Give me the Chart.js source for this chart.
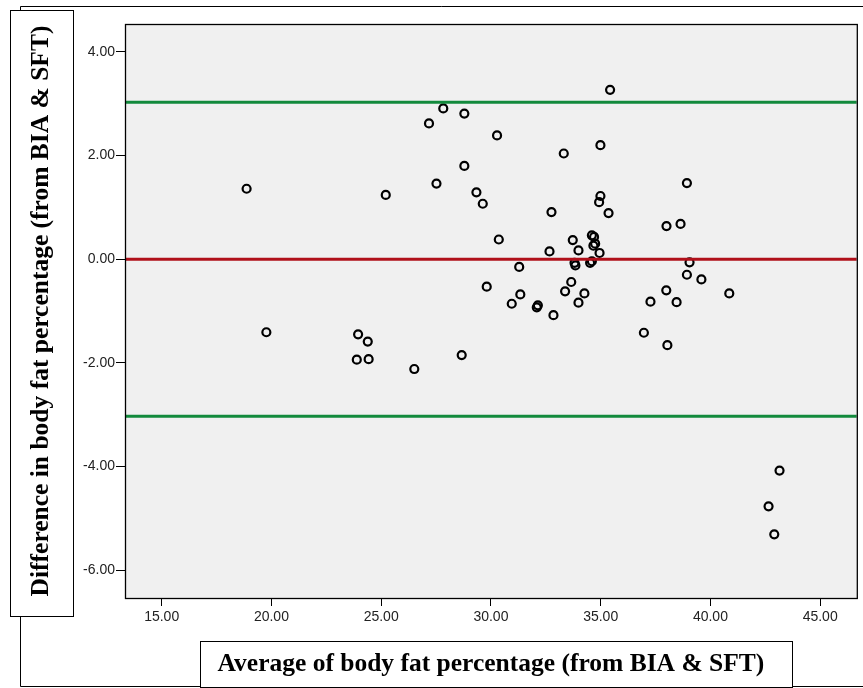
<!DOCTYPE html>
<html>
<head>
<meta charset="utf-8">
<script src="https://cdn.jsdelivr.net/npm/chart.js@4"></script>
<style>
  body { margin: 0; background: #fff; }
  #wrap { width: 863px; height: 688px; }
</style>
</head>
<body>
<div id="wrap"><canvas id="blandAltman" width="863" height="688"></canvas></div>
<script>
// DATA
const avgFat = [
    18.87, 19.77, 23.95, 24.39, 23.89, 24.43, 26.51, 25.21, 27.18, 27.83,
    27.52, 28.79, 28.79, 29.34, 29.63, 30.28, 30.36, 29.81, 28.67, 31.29,
    31.34, 30.95, 32.14, 32.09, 32.85, 32.76, 32.67, 33.32, 35.43, 34.99,
    34.99, 34.93, 35.36, 33.73, 33.99, 33.81, 33.85, 34.60, 34.70, 34.67,
    34.75, 34.95, 34.52, 34.60, 33.66, 33.38, 34.26, 33.99, 38.93, 38.00,
    38.64, 39.05, 38.93, 39.59, 37.99, 37.27, 38.46, 40.86, 36.97, 38.04,
    43.15, 42.65, 42.91
]
const diffFat = [
    1.36, -1.41, -1.45, -1.59, -1.94, -1.93, -2.12, 1.24, 2.62, 2.91,
    1.46, 2.81, 1.80, 1.29, 1.07, 2.39, 0.38, -0.53, -1.85, -0.15,
    -0.68, -0.86, -0.89, -0.93, -1.08, 0.91, 0.15, 2.04, 3.27, 2.20,
    1.22, 1.10, 0.89, 0.37, 0.17, -0.07, -0.12, 0.46, 0.43, 0.26,
    0.30, 0.12, -0.07, -0.04, -0.44, -0.62, -0.66, -0.84, 1.47, 0.64,
    0.68, -0.06, -0.30, -0.39, -0.60, -0.82, -0.83, -0.66, -1.42, -1.66,
    -4.08, -4.77, -5.31
]

const meanDiff = 0
const upperLimit = 3.03
const lowerLimit = -3.03

const xTicks = [15, 20, 25, 30, 35, 40, 45]
const yTicks = [-6, -4, -2, 0, 2, 4]
const xMin = 13.33, xMax = 46.67
const yMin = -6.54, yMax = 4.54

const hLine = (value) => [{ x: xMin, y: value }, { x: xMax, y: value }]

// frames, boxes and plot background like the SPSS output
const framePlugin = {
    id: 'frames',
    beforeDraw(chart) {
        const { ctx, chartArea: a } = chart
        ctx.save()
        ctx.fillStyle = '#fff'
        ctx.fillRect(0, 0, chart.width, chart.height)
        ctx.strokeStyle = '#000'
        ctx.lineWidth = 1
        // outer frame
        ctx.beginPath()
        ctx.moveTo(chart.width, 6.5)
        ctx.lineTo(20.5, 6.5)
        ctx.lineTo(20.5, 686.5)
        ctx.lineTo(chart.width, 686.5)
        ctx.stroke()
        // y title box
        ctx.fillRect(10, 10, 63, 606)
        ctx.strokeRect(10.5, 10.5, 63, 606)
        // x title box
        ctx.fillRect(200, 641, 592, 46)
        ctx.strokeRect(200.5, 641.5, 592, 46)
        // plot background
        ctx.fillStyle = '#f0f0f0'
        ctx.fillRect(a.left, a.top, a.right - a.left, a.bottom - a.top)
        ctx.restore()
    },
    afterDraw(chart) {
        const { ctx, chartArea: a } = chart
        ctx.save()
        ctx.strokeStyle = '#000'
        ctx.lineWidth = 1.3
        ctx.strokeRect(a.left + 0.5, a.top + 0.5, a.right - a.left, a.bottom - a.top)
        ctx.restore()
    }
}

const ctx = document.getElementById('blandAltman')

new Chart(ctx, {
    type: 'scatter',
    data: {
        datasets: [
            {
                data: hLine(upperLimit),
                showLine: true,
                borderColor: '#128a3c',
                borderWidth: 3,
                pointRadius: 0,
            },
            {
                data: hLine(lowerLimit),
                showLine: true,
                borderColor: '#128a3c',
                borderWidth: 3,
                pointRadius: 0,
            },
            {
                data: hLine(meanDiff),
                showLine: true,
                borderColor: '#b0101a',
                borderWidth: 3,
                pointRadius: 0,
            },
            {
                data: avgFat.map((x, i) => ({ x: x, y: diffFat[i] })),
                pointRadius: 4,
                pointBorderWidth: 2.2,
                borderColor: '#000',
                backgroundColor: 'rgba(0,0,0,0)',
            },
        ]
    },
    options: {
        responsive: false,
        animation: false,
        events: [],
        layout: {
            padding: { top: 24, right: 6, left: 0, bottom: 0 }
        },
        plugins: {
            legend: { display: false },
            tooltip: { enabled: false },
        },
        scales: {
            x: {
                type: 'linear',
                min: xMin,
                max: xMax,
                afterBuildTicks: (scale) => { scale.ticks = xTicks.map(v => ({ value: v })) },
                afterFit: (scale) => { scale.height = 90 },
                grid: {
                    drawOnChartArea: false,
                    drawTicks: true,
                    tickLength: 8,
                    color: '#000',
                },
                border: { color: '#000' },
                ticks: {
                    padding: 3,
                    color: '#222',
                    font: { family: 'Liberation Sans, Arial, sans-serif', size: 14 },
                    callback: (v) => Number(v).toFixed(2),
                },
                title: {
                    display: true,
                    text: 'Average of body fat percentage (from BIA & SFT)',
                    color: '#000',
                    font: { family: 'Liberation Serif, Times New Roman, serif', size: 25.5, weight: 'bold' },
                    padding: { top: 0, bottom: 8 },
                },
            },
            y: {
                type: 'linear',
                min: yMin,
                max: yMax,
                afterBuildTicks: (scale) => { scale.ticks = yTicks.map(v => ({ value: v })) },
                afterFit: (scale) => { scale.width = 125 },
                grid: {
                    drawOnChartArea: false,
                    drawTicks: true,
                    tickLength: 9,
                    color: '#000',
                },
                border: { color: '#000' },
                ticks: {
                    padding: 1,
                    color: '#222',
                    font: { family: 'Liberation Sans, Arial, sans-serif', size: 14 },
                    callback: (v) => Number(v).toFixed(2),
                },
                title: {
                    display: true,
                    text: 'Difference in body fat percentage (from BIA & SFT)',
                    color: '#000',
                    font: { family: 'Liberation Serif, Times New Roman, serif', size: 25.5, weight: 'bold' },
                    padding: { top: 26, bottom: 0 },
                },
            }
        }
    },
    plugins: [framePlugin]
})
</script>
</body>
</html>
